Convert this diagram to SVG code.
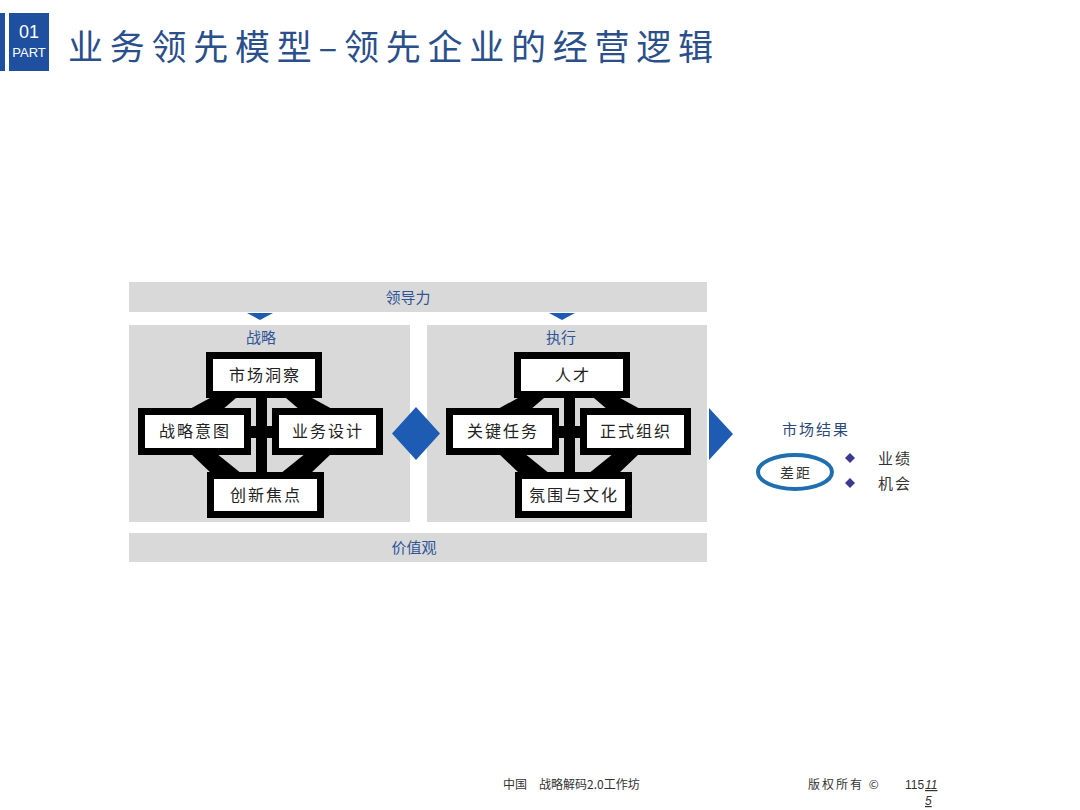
<svg xmlns="http://www.w3.org/2000/svg" width="1080" height="810" viewBox="0 0 1080 810">
<style>
.cjk{font-family:"Noto Sans CJK SC","Liberation Sans",sans-serif}
.band{fill:#d9d9d9}
.lbl{fill:#2f5597;font-size:15px;text-anchor:middle}
.box{fill:#ffffff;stroke:#000000;stroke-width:7}
.bt{fill:#222222;font-size:16px;text-anchor:middle;letter-spacing:2px}
.blk{fill:#000000}
.blue{fill:#1e5cb3}
</style>
<rect width="1080" height="810" fill="#ffffff"/>
<g id="header">
<rect x="0" y="13" width="5" height="58" fill="#1f4f9f"/>
<rect x="9" y="13" width="40" height="58" fill="#1f4f9f"/>
<text x="29" y="38" fill="#ffffff" font-family="Liberation Sans,sans-serif" font-size="18" text-anchor="middle">01</text>
<text x="29" y="57" fill="#ffffff" font-family="Liberation Sans,sans-serif" font-size="13" text-anchor="middle">PART</text>
<text x="68" y="60" class="cjk" fill="#2a4f8a" font-size="35" textLength="645" lengthAdjust="spacing">业务领先模型–领先企业的经营逻辑</text>
</g>
<g id="leadership">
<rect class="band" x="129" y="282" width="578" height="30"/>
<text class="cjk lbl" x="408" y="303">领导力</text>
<polygon class="blue" points="247,313 273,313 260,320"/>
<polygon class="blue" points="549,313 575,313 562,320"/>
</g>
<g id="values">
<rect class="band" x="129" y="533" width="578" height="29"/>
<text class="cjk lbl" x="414" y="553">价值观</text>
</g>
<g id="strategy">
<rect class="band" x="129" y="325" width="281" height="197"/>
<text class="cjk lbl" x="261" y="343">战略</text>
</g>
<g id="execution">
<rect class="band" x="427" y="325" width="280" height="197"/>
<text class="cjk lbl" x="561" y="343">执行</text>
</g>
<g id="connectors">
<g id="conn-left">
<rect class="blk" x="256" y="396" width="11" height="78"/>
<rect class="blk" x="248" y="426" width="26" height="12"/>
<polygon class="blk" points="210,398 236,398 222,410 188,410"/>
<polygon class="blk" points="286,398 312,398 334,410 300,410"/>
<polygon class="blk" points="190,453 216,453 242,474 212,474"/>
<polygon class="blk" points="306,453 332,453 310,474 280,474"/>
</g>
<g id="conn-right" transform="translate(308,0)">
<rect class="blk" x="256" y="396" width="11" height="78"/>
<rect class="blk" x="248" y="426" width="26" height="12"/>
<polygon class="blk" points="210,398 236,398 222,410 188,410"/>
<polygon class="blk" points="286,398 312,398 334,410 300,410"/>
<polygon class="blk" points="190,453 216,453 242,474 212,474"/>
<polygon class="blk" points="306,453 332,453 310,474 280,474"/>
</g>
<polygon class="blue" points="416,407 440,433.5 416,460 392,433.5"/>
<polygon class="blue" points="709,408 733,434 709,460"/>
</g>
<g id="market-insight"><rect class="box" x="209.5" y="355.5" width="109" height="39"/><text class="cjk bt" x="265" y="381">市场洞察</text></g>
<g id="strategic-intent"><rect class="box" x="141.5" y="411.5" width="106" height="40"/><text class="cjk bt" x="195" y="437">战略意图</text></g>
<g id="business-design"><rect class="box" x="275.5" y="411.5" width="104" height="40"/><text class="cjk bt" x="328" y="437">业务设计</text></g>
<g id="innovation-focus"><rect class="box" x="210.5" y="475.5" width="110" height="39"/><text class="cjk bt" x="266" y="501">创新焦点</text></g>
<g id="talent"><rect class="box" x="517.5" y="355.5" width="109" height="39"/><text class="cjk bt" x="573" y="381">人才</text></g>
<g id="key-tasks"><rect class="box" x="449.5" y="411.5" width="106" height="40"/><text class="cjk bt" x="503" y="437">关键任务</text></g>
<g id="formal-org"><rect class="box" x="583.5" y="411.5" width="104" height="40"/><text class="cjk bt" x="636" y="437">正式组织</text></g>
<g id="culture"><rect class="box" x="518.5" y="475.5" width="110" height="39"/><text class="cjk bt" x="574" y="501">氛围与文化</text></g>
<g id="market-results">
<text class="cjk" x="816" y="435" fill="#2b4a7a" font-size="15" text-anchor="middle" letter-spacing="2">市场结果</text>
<ellipse cx="795" cy="472" rx="37" ry="17" fill="none" stroke="#1f6fb0" stroke-width="4"/>
<text class="cjk" x="796" y="478" fill="#333333" font-size="14" text-anchor="middle" letter-spacing="2">差距</text>
<polygon points="850,453 855,458 850,463 845,458" fill="#3b3a8e"/>
<polygon points="850,478 855,483 850,488 845,483" fill="#3b3a8e"/>
<text class="cjk" x="878" y="464" fill="#333333" font-size="15" letter-spacing="2">业绩</text>
<text class="cjk" x="878" y="489" fill="#333333" font-size="15" letter-spacing="2">机会</text>
</g>
<g id="footer" fill="#333333" font-size="12">
<text class="cjk" x="503" y="789">中国　战略解码2.0工作坊</text>
<text class="cjk" x="808" y="789" letter-spacing="2">版权所有 ©</text>
<text x="905" y="789" font-family="Liberation Sans,sans-serif">115</text>
<text x="925" y="789" font-family="Liberation Sans,sans-serif" font-style="italic" text-decoration="underline">11</text>
<text x="925" y="805" font-family="Liberation Sans,sans-serif" font-style="italic" text-decoration="underline">5</text>
</g>
</svg>
